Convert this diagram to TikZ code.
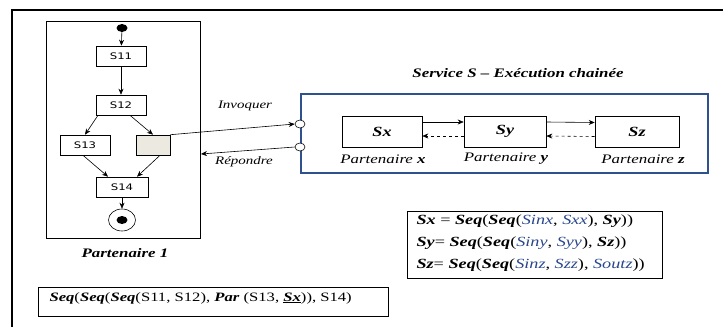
\documentclass[tikz,border=0pt]{standalone}
\usepackage{fontspec}
\setmainfont{Liberation Serif}[FakeStretch=1.3]
\newfontfamily\sansf{DejaVu Sans}[FakeStretch=1.3]
\usetikzlibrary{arrows.meta,shapes.geometric}
\definecolor{frameblue}{RGB}{47,82,143}
\definecolor{txtblue}{RGB}{40,70,140}
\definecolor{greyfill}{RGB}{236,234,224}
\tikzset{
  act/.style={draw, line width=0.6pt, minimum width=50pt, minimum height=20pt, inner sep=0pt, font=\sansf\fontsize{9}{11}\selectfont},
  svc/.style={draw, line width=0.6pt, minimum height=31pt, inner sep=0pt, font=\bfseries\itshape\fontsize{14}{16}\selectfont},
  port/.style={ellipse, draw, fill=white, line width=0.6pt, minimum width=10pt, minimum height=8pt, inner sep=0pt},
  plabel/.style={font=\itshape\fontsize{13}{15}\selectfont},
  clabel/.style={font=\itshape\fontsize{11.5}{13}\selectfont},
  arr/.style={-{Stealth[length=6pt,width=5pt]}, line width=0.6pt},
  formula/.style={font=\fontsize{14}{16}\selectfont},
}
\newcommand{\bi}[1]{\textbf{\textit{#1}}}
\begin{document}
\begin{tikzpicture}[x=1pt,y=-1pt]
\useasboundingbox (0,0) rectangle (723,327);
\draw[line width=2.2pt] (12,327) -- (12,10) -- (723,10);

% Partenaire 1
\node[draw, line width=0.6pt, anchor=north west, minimum width=154pt, minimum height=217pt, inner sep=0pt] (p1) at (46,21) {};
\node[ellipse, fill, minimum width=11pt, minimum height=8pt, inner sep=0pt] (init) at (122,28) {};
\node[act] (S11) at (121,56) {S11};
\node[act] (S12) at (121,105) {S12};
\node[act] (S13) at (85,145) {S13};
\node[act, fill=greyfill, minimum width=34pt] (grey) at (153,145) {};
\node[act, minimum width=52pt] (S14) at (122,187) {S14};
\node[ellipse, draw, line width=0.6pt, minimum width=27pt, minimum height=22pt, inner sep=0pt] (final) at (122,220) {};
\node[ellipse, fill, minimum width=11pt, minimum height=8pt, inner sep=0pt] (finaldot) at (final.center) {};
\draw[arr] (init) -- (S11);
\draw[arr] (S11) -- (S12);
\draw[arr] ([xshift=-23pt]S12.south) -- (S13.north);
\draw[arr] ([xshift=9pt]S12.south) -- (grey.north);
\draw[arr] ([xshift=-2pt]S13.south) -- ([xshift=-14pt]S14.north);
\draw[arr] ([xshift=7pt]grey.south) -- ([xshift=15pt]S14.north);
\draw[arr] (S14) -- (final);
\node[font=\bfseries\itshape\fontsize{13}{15}\selectfont] (p1lab) at (125,253) {Partenaire 1};

% Service S
\node[font=\bfseries\itshape\fontsize{13}{15}\selectfont] (title) at (518,73) {Service S – Exécution chainée};
\node[draw=frameblue, line width=1.8pt, anchor=north west, minimum width=407pt, minimum height=79pt, inner sep=0pt] (svcbox) at (300,93) {};
\node[svc, minimum width=80pt] (Sx) at (382,131.5) {Sx};
\node[svc, minimum width=82pt] (Sy) at (505,131.5) {Sy};
\node[svc, minimum width=84pt] (Sz) at (637,132) {Sz};
\draw[arr] ([yshift=9.5pt]Sx.east) -- ([yshift=9.5pt]Sy.west);
\draw[arr, dashed] ([yshift=-4.5pt]Sy.west) -- ([yshift=-4.5pt]Sx.east);
\draw[arr] ([yshift=9.5pt]Sy.east) -- ([yshift=9.5pt]Sz.west);
\draw[arr, dashed] ([yshift=-4.5pt]Sz.west) -- ([yshift=-4.5pt]Sy.east);
\node[plabel] (px) at (383,159) {Partenaire \textbf{x}};
\node[plabel] (py) at (506,159) {Partenaire \textbf{y}};
\node[plabel] (pz) at (643,159) {Partenaire \textbf{z}};

% ports and calls
\node[port] (port1) at (300,124) {};
\node[port] (port2) at (300,147) {};
\coordinate (ret) at (201,154);
\draw[arr] (grey.north east) -- (port1.west);
\draw[arr] (port2.west) -- (ret);
\node[clabel] (inv) at (245,106) {Invoquer};
\node[clabel] (rep) at (244,162) {Répondre};

% formulas
\node[draw, line width=0.6pt, anchor=north west, minimum width=255pt, minimum height=67pt, inner sep=0pt] (fbox) at (407,211) {};
\node[formula, anchor=west] (f1) at (413,221) {\bi{Sx} = \bi{Seq}(\bi{Seq}(\textcolor{txtblue}{\textit{Sinx}}, \textcolor{txtblue}{\textit{Sxx}}), \bi{Sy}))};
\node[formula, anchor=west] (f2) at (413,243) {\bi{Sy}= \bi{Seq}(\bi{Seq}(\textcolor{txtblue}{\textit{Siny}}, \textcolor{txtblue}{\textit{Syy}}), \bi{Sz}))};
\node[formula, anchor=west] (f3) at (413,265) {\bi{Sz}= \bi{Seq}(\bi{Seq}(\textcolor{txtblue}{\textit{Sinz}}, \textcolor{txtblue}{\textit{Szz}}), \textcolor{txtblue}{\textit{Soutz}}))};

\node[draw, line width=0.6pt, anchor=north west, minimum width=350pt, minimum height=29pt, inner sep=0pt] (bbox) at (38,287) {};
\node[formula, anchor=west, font=\fontsize{12.8}{15}\selectfont] (bf) at (46,298) {\bi{Seq}(\bi{Seq}(\bi{Seq}(S11, S12), \bi{Par} (S13, \underline{\bi{Sx}})), S14)};
\end{tikzpicture}
\end{document}
